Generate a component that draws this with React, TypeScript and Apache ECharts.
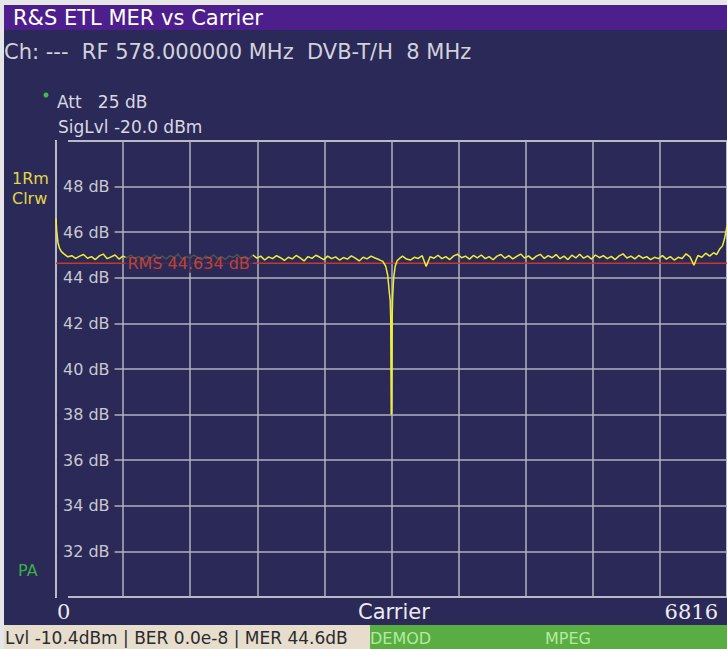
import React, { useEffect, useRef } from "react";
import * as echarts from "echarts";

// ---------- texts ----------
const titleText = "R&S ETL MER vs Carrier";
const headerText = "Ch: ---  RF 578.000000 MHz  DVB-T/H  8 MHz";
const attText = "Att   25 dB";
const sigLvlText = "SigLvl -20.0 dBm";
const traceLabels = ["1Rm", "Clrw"];
const paText = "PA";
const xLabels = ["0", "Carrier", "6816"];
const statusText = "Lvl -10.4dBm | BER 0.0e-8 | MER 44.6dB";
const statusBlocks = ["DEMOD", "MPEG"];

// ---------- axes ----------
const carrierMin = 0;
const carrierMax = 6816;
const dbMin = 30;
const dbMax = 50;
const dbStep = 2;
const yTickLabels = [32, 34, 36, 38, 40, 42, 44, 46, 48];

// ---------- data ----------
const rmsLevel = 44.634;
const rmsLabelCarrier = 700;

// [carrier, MER dB]
const merTrace: [number, number][] = [
  [0, 46.6], [8, 46.0], [20, 45.55], [35, 45.3], [55, 45.15], [80, 45.05],
  [120, 44.92], [160, 44.97], [200, 44.85], [240, 44.95], [280, 45.02], [320, 44.86],
  [360, 44.93], [400, 44.8], [440, 44.96], [480, 45.04], [520, 44.84], [560, 44.92],
  [600, 45.0], [640, 44.82], [680, 44.95], [720, 44.88], [760, 45.0], [800, 44.85],
  [840, 44.93], [880, 44.8], [920, 44.96], [960, 44.87], [1000, 45.02], [1040, 44.84],
  [1080, 44.95], [1120, 44.83], [1160, 44.97], [1200, 44.9], [1240, 45.03], [1280, 44.82],
  [1320, 44.94], [1360, 44.86], [1400, 45.0], [1440, 44.88], [1480, 44.79], [1520, 44.95],
  [1560, 44.87], [1600, 45.01], [1640, 44.84], [1680, 44.93], [1720, 44.81], [1760, 44.96],
  [1800, 44.89], [1840, 45.02], [1880, 44.85], [1920, 44.94], [1960, 44.83], [2000, 45.0],
  [2040, 44.86], [2080, 44.95], [2120, 44.78], [2160, 44.92], [2200, 44.84], [2240, 44.97],
  [2280, 44.88], [2320, 44.76], [2360, 44.9], [2400, 44.83], [2440, 44.98], [2480, 44.87],
  [2520, 44.74], [2560, 44.93], [2600, 44.85], [2640, 44.99], [2680, 44.9], [2720, 44.8],
  [2760, 44.95], [2800, 44.84], [2840, 44.92], [2880, 44.78], [2920, 44.89], [2960, 44.82],
  [3000, 44.96], [3040, 44.86], [3080, 44.74], [3120, 44.9], [3160, 44.83], [3200, 44.95],
  [3240, 44.87], [3280, 44.8], [3320, 44.72], [3350, 44.5], [3370, 44.1], [3385, 43.4],
  [3395, 43.0], [3400, 42.2], [3405, 38.0], [3410, 38.1], [3415, 42.3], [3420, 43.2],
  [3430, 44.0], [3445, 44.5], [3465, 44.75], [3490, 44.85], [3520, 44.95], [3560, 44.82],
  [3600, 44.78], [3640, 44.9], [3680, 44.85], [3720, 44.97], [3760, 44.5], [3800, 44.92],
  [3840, 44.86], [3880, 44.99], [3920, 44.84], [3960, 44.93], [4000, 44.8], [4040, 44.96],
  [4080, 45.03], [4120, 44.88], [4160, 44.95], [4200, 44.82], [4240, 44.98], [4280, 44.87],
  [4320, 45.0], [4360, 44.84], [4400, 44.93], [4440, 44.79], [4480, 44.95], [4520, 45.02],
  [4560, 44.86], [4600, 44.97], [4640, 44.83], [4680, 44.94], [4720, 45.04], [4760, 44.87],
  [4800, 44.96], [4840, 44.81], [4880, 44.95], [4920, 45.03], [4960, 44.85], [5000, 44.97],
  [5040, 44.88], [5080, 45.02], [5120, 44.84], [5160, 44.95], [5200, 44.8], [5240, 44.99],
  [5280, 44.87], [5320, 45.03], [5360, 44.86], [5400, 44.96], [5440, 44.82], [5480, 45.0],
  [5520, 44.88], [5560, 44.97], [5600, 44.84], [5640, 44.94], [5680, 44.8], [5720, 44.96],
  [5760, 45.05], [5800, 44.87], [5840, 44.95], [5880, 44.83], [5920, 44.98], [5960, 44.86],
  [6000, 44.93], [6040, 44.8], [6080, 44.9], [6120, 44.84], [6160, 44.97], [6200, 44.82],
  [6240, 44.93], [6280, 44.78], [6320, 44.9], [6360, 44.85], [6400, 45.05], [6440, 44.92],
  [6480, 44.55], [6520, 44.98], [6560, 44.9], [6600, 45.08], [6640, 44.95], [6680, 45.1],
  [6710, 45.02], [6740, 45.25], [6770, 45.4], [6790, 45.7], [6805, 46.0], [6816, 46.3],
];

// ---------- colours ----------
const NAVY = "#2b2957";
const PURPLE = "#4d1f8d";
const PAGE = "#e6e6e8";
const BEIGE = "#e6ddcc";
const GREEN = "#5aad42";
const FONT = '"DejaVu Sans"';

function txt(text: string, x: number, y: number, size: number, fill: string, align = "left", family = FONT) {
  return {
    type: "text",
    z: 20,
    silent: true,
    style: {
      text,
      x,
      y,
      fill,
      font: `${size}px ${family}`,
      align,
      verticalAlign: "middle",
      textAlign: align,
      textVerticalAlign: "middle",
    },
  };
}

export default function App() {
  const ref = useRef<HTMLDivElement>(null);

  useEffect(() => {
    if (!ref.current) return;
    const chart = echarts.init(ref.current, undefined, { renderer: "svg" });

    const option: any = {
      animation: false,
      backgroundColor: "transparent",
      grid: {
        left: 56,
        right: -2,
        top: 141,
        bottom: 52,
        show: true,
        borderColor: "#d2d2da",
        borderWidth: 2,
        backgroundColor: "transparent",
      },
      xAxis: {
        type: "value",
        min: carrierMin,
        max: carrierMax,
        interval: (carrierMax - carrierMin) / 10,
        axisLine: { show: false },
        axisTick: { show: false },
        axisLabel: { show: false },
        splitLine: { show: true, lineStyle: { color: "#b2b2be", width: 1.5 } },
      },
      yAxis: {
        type: "value",
        min: dbMin,
        max: dbMax,
        interval: dbStep,
        axisLine: { show: false },
        axisTick: { show: false },
        axisLabel: {
          inside: true,
          margin: 1,
          color: "#c8c8d0",
          fontSize: 16,
          fontFamily: "DejaVu Sans",
          backgroundColor: NAVY,
          padding: [1, 5, 1, 6],
          formatter: (v: number) => (yTickLabels.includes(v) ? `${v} dB` : ""),
        },
        splitLine: { show: true, lineStyle: { color: "#b2b2be", width: 1.5 } },
      },
      series: [
        {
          type: "line",
          z: 2,
          silent: true,
          symbol: "none",
          data: [
            [carrierMin, rmsLevel],
            [carrierMax, rmsLevel],
          ],
          lineStyle: { color: "#c23a2a", width: 1.5 },
        },
        {
          type: "line",
          z: 3,
          silent: true,
          symbol: "none",
          data: merTrace,
          lineStyle: { color: "#eeee3a", width: 1.5 },
        },
        {
          type: "scatter",
          z: 6,
          silent: true,
          symbolSize: 1,
          itemStyle: { color: "transparent" },
          data: [[rmsLabelCarrier, rmsLevel]],
          label: {
            show: true,
            position: "right",
            distance: 0,
            formatter: `RMS ${rmsLevel.toFixed(3)} dB`,
            color: "#e24a2c",
            fontSize: 16,
            fontFamily: "DejaVu Sans",
            backgroundColor: NAVY,
            padding: [2, 3, 1, 2],
          },
        },
      ],
      graphic: [
        { type: "rect", z: -10, silent: true, shape: { x: 4, y: 5, width: 723, height: 25 }, style: { fill: PURPLE } },
        { type: "rect", z: -10, silent: true, shape: { x: 4, y: 30, width: 723, height: 595 }, style: { fill: NAVY } },
        { type: "rect", z: -10, silent: true, shape: { x: 4, y: 625, width: 366, height: 24 }, style: { fill: BEIGE } },
        { type: "rect", z: -10, silent: true, shape: { x: 370, y: 625, width: 357, height: 24 }, style: { fill: GREEN } },
        txt(titleText, 13, 18, 21, "#ffffff"),
        txt(headerText, 4, 52, 21, "#d2d2da"),
        { type: "circle", z: 20, silent: true, shape: { cx: 46, cy: 95, r: 2.5 }, style: { fill: "#3cc04a" } },
        txt(attText, 57, 102, 17, "#d8d8e0"),
        txt(sigLvlText, 58, 127, 17, "#d8d8e0"),
        txt(traceLabels[0], 12, 178, 16, "#e0d848"),
        txt(traceLabels[1], 12, 198, 16, "#e0d848"),
        txt(paText, 18, 570, 16, "#36b048"),
        txt(xLabels[0], 57, 612, 21, "#ececf0", "left", '"DejaVu Serif"'),
        txt(xLabels[1], 394, 612, 21, "#ececf0", "center"),
        txt(xLabels[2], 718, 612, 21, "#ececf0", "right", '"DejaVu Serif"'),
        txt(statusText, 5, 638, 17, "#2a2a30"),
        txt(statusBlocks[0], 370, 638, 16, "#b4eaa0"),
        txt(statusBlocks[1], 545, 638, 16, "#b4eaa0"),
      ],
    };

    chart.setOption(option);
    return () => chart.dispose();
  }, []);

  return (
    <div
      ref={ref}
      style={{ position: "fixed", left: 0, top: 0, width: 727, height: 649, background: PAGE }}
    />
  );
}
